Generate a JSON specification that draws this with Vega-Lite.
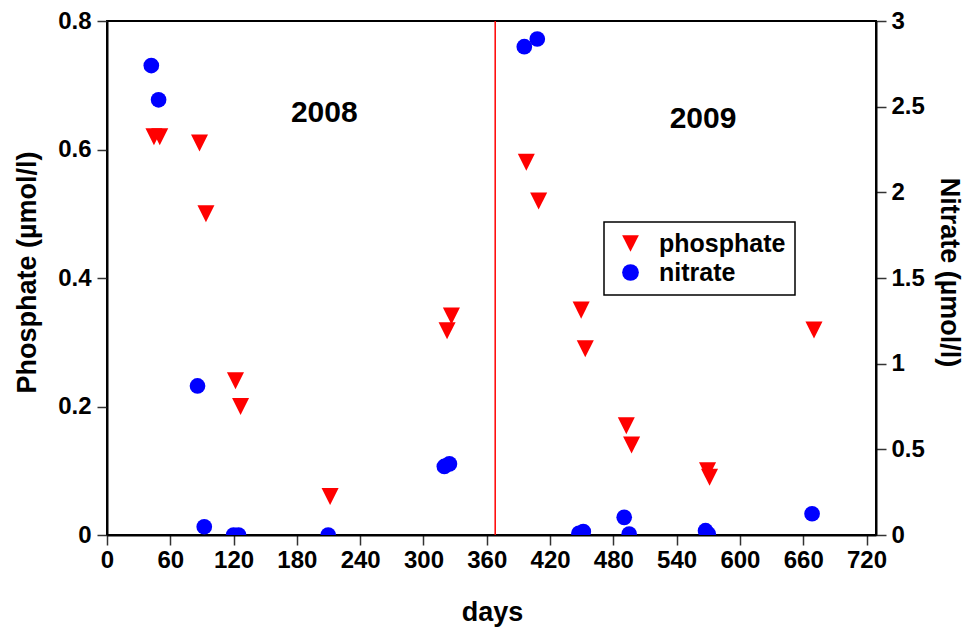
{
  "$schema": "https://vega.github.io/schema/vega-lite/v6.json",
  "autosize": {"type": "none"},
  "padding": {"left": 107, "top": 21, "right": 87, "bottom": 96},
  "width": 769,
  "height": 514,
  "config": {
    "font": "Liberation Sans",
    "view": {"stroke": "black", "strokeWidth": 2},
    "axis": {
      "grid": false,
      "domainColor": "black",
      "domainWidth": 2,
      "tickColor": "#333",
      "tickWidth": 1.5,
      "tickSize": 10,
      "labelFont": "Liberation Sans",
      "labelFontSize": 24,
      "labelFontWeight": "bold",
      "labelColor": "black",
      "titleFont": "Liberation Sans",
      "titleFontSize": 27,
      "titleFontWeight": "bold",
      "titleColor": "black",
      "titleBaseline": "alphabetic",
      "titleAlign": "center"
    }
  },
  "encoding": {
    "x": {
      "field": "day",
      "type": "quantitative",
      "scale": {"domain": [0, 729], "nice": false},
      "axis": {
        "title": "days",
        "values": [0, 60, 120, 180, 240, 300, 360, 420, 480, 540, 600, 660, 720],
        "labelPadding": 3,
        "labelFlush": false,
        "titleX": 385,
        "titleY": 85
      }
    }
  },
  "layer": [
    {
      "layer": [
        {
          "data": {"values": [
            {"day": 44.5, "value": 0.62, "series": "phosphate"},
            {"day": 50, "value": 0.62, "series": "phosphate"},
            {"day": 87.7, "value": 0.61, "series": "phosphate"},
            {"day": 93.8, "value": 0.50, "series": "phosphate"},
            {"day": 121.8, "value": 0.24, "series": "phosphate"},
            {"day": 126.6, "value": 0.20, "series": "phosphate"},
            {"day": 211.5, "value": 0.06, "series": "phosphate"},
            {"day": 322.4, "value": 0.318, "series": "phosphate"},
            {"day": 326.5, "value": 0.341, "series": "phosphate"},
            {"day": 397.5, "value": 0.58, "series": "phosphate"},
            {"day": 409.2, "value": 0.52, "series": "phosphate"},
            {"day": 449.5, "value": 0.35, "series": "phosphate"},
            {"day": 453.4, "value": 0.29, "series": "phosphate"},
            {"day": 492.3, "value": 0.17, "series": "phosphate"},
            {"day": 497.3, "value": 0.14, "series": "phosphate"},
            {"day": 569.3, "value": 0.10, "series": "phosphate"},
            {"day": 571.2, "value": 0.09, "series": "phosphate"},
            {"day": 670.2, "value": 0.319, "series": "phosphate"}
          ]},
          "mark": {"type": "point", "filled": true, "opacity": 1, "size": 290},
          "encoding": {
            "y": {
              "field": "value",
              "type": "quantitative",
              "scale": {"domain": [0, 0.8], "nice": false},
              "axis": {
                "title": "Phosphate (µmol/l)",
                "values": [0, 0.2, 0.4, 0.6, 0.8],
                "format": ".1~f",
                "labelPadding": 6,
                "labelFlush": false,
                "titleAngle": -90,
                "titleX": -72,
                "titleY": 251
              }
            },
            "color": {
              "field": "series",
              "type": "nominal",
              "scale": {"domain": ["phosphate", "nitrate"], "range": ["#ff0000", "#0000ff"]},
              "legend": {
                "title": null,
                "orient": "none",
                "legendX": 497,
                "legendY": 201,
                "padding": 9,
                "symbolSize": 280,
                "symbolOffset": 5,
                "symbolOpacity": 1,
                "labelOffset": 16,
                "rowPadding": 3,
                "labelFont": "Liberation Sans",
                "labelFontSize": 25,
                "labelFontWeight": "bold",
                "labelColor": "black",
                "encode": {
                  "legend": {
                    "update": {
                      "stroke": {"value": "black"},
                      "strokeWidth": {"value": 1.5},
                      "fill": {"value": "white"}
                    }
                  }
                }
              }
            },
            "shape": {
              "field": "series",
              "type": "nominal",
              "scale": {"domain": ["phosphate", "nitrate"], "range": ["M-1,-1L1,-1L0,1Z", "circle"]},
              "legend": null
            }
          }
        },
        {
          "data": {"values": [
            {"day": 206, "value": 0.643, "label": "2008"},
            {"day": 565, "value": 0.634, "label": "2009"}
          ]},
          "mark": {"type": "text", "font": "Liberation Sans", "fontSize": 30, "fontWeight": "bold", "align": "center", "baseline": "alphabetic", "color": "black"},
          "encoding": {
            "y": {"field": "value", "type": "quantitative"},
            "text": {"field": "label"}
          }
        },
        {
          "data": {"values": [{"day": 368}]},
          "mark": {"type": "rule", "color": "#ff0000", "strokeWidth": 1.5},
          "encoding": {}
        }
      ]
    },
    {
      "data": {"values": [
        {"day": 42, "value": 2.74, "series": "nitrate"},
        {"day": 48.9, "value": 2.54, "series": "nitrate"},
        {"day": 85.8, "value": 0.87, "series": "nitrate"},
        {"day": 92.2, "value": 0.048, "series": "nitrate"},
        {"day": 120, "value": 0.0, "series": "nitrate"},
        {"day": 124.7, "value": 0.0, "series": "nitrate"},
        {"day": 209.7, "value": 0.0, "series": "nitrate"},
        {"day": 319.8, "value": 0.40, "series": "nitrate"},
        {"day": 324.6, "value": 0.415, "series": "nitrate"},
        {"day": 395.6, "value": 2.85, "series": "nitrate"},
        {"day": 407.9, "value": 2.895, "series": "nitrate"},
        {"day": 447.4, "value": 0.01, "series": "nitrate"},
        {"day": 451.5, "value": 0.02, "series": "nitrate"},
        {"day": 490.3, "value": 0.103, "series": "nitrate"},
        {"day": 495, "value": 0.005, "series": "nitrate"},
        {"day": 567.4, "value": 0.025, "series": "nitrate"},
        {"day": 570, "value": 0.005, "series": "nitrate"},
        {"day": 668.4, "value": 0.124, "series": "nitrate"}
      ]},
      "mark": {"type": "point", "filled": true, "opacity": 1, "size": 246, "clip": true},
      "encoding": {
        "y": {
          "field": "value",
          "type": "quantitative",
          "scale": {"domain": [0, 3], "nice": false},
          "axis": {
            "orient": "right",
            "title": "Nitrate (µmol/l)",
            "values": [0, 0.5, 1, 1.5, 2, 2.5, 3],
            "format": ".1~f",
            "labelPadding": 5,
            "labelFlush": false,
            "titleAngle": 90,
            "titleX": 64,
            "titleY": 251
          }
        },
        "color": {"field": "series", "type": "nominal"},
        "shape": {"field": "series", "type": "nominal"}
      }
    }
  ],
  "resolve": {"scale": {"y": "independent"}}
}
